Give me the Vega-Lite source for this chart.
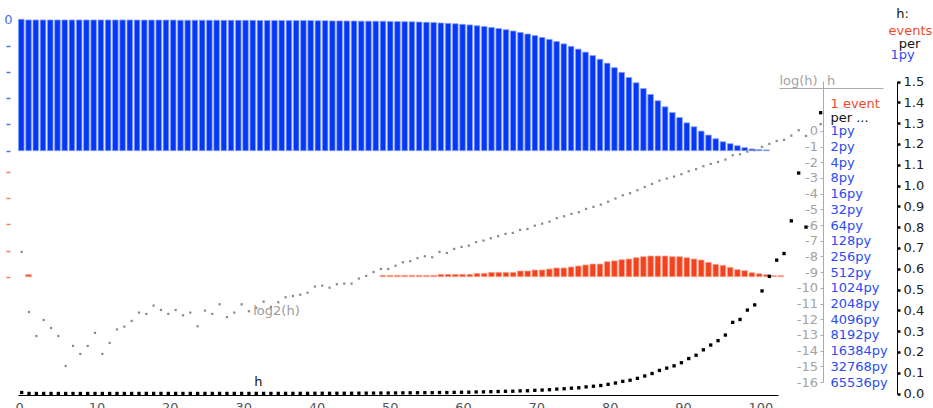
{
"$schema": "https://vega.github.io/schema/vega-lite/v6.json",
"width": 760, "height": 385,
"autosize": {"type": "none"},
"padding": {"left": 18, "top": 10, "right": 155, "bottom": 13},
"background": "white",
"config": {"view": {"stroke": null}, "font": "DejaVu Sans",
  "axis": {"labelFont": "DejaVu Sans", "titleFont": "DejaVu Sans", "labelFontSize": 13, "titleFontSize": 13, "titleFontWeight": "normal", "grid": false, "labelOverlap": false, "labelBound": false, "labelFlush": false},
  "text": {"font": "DejaVu Sans", "fontSize": 13}},
"data": {"values": [
{"age":0,"l":1.0,"d":null,"h":0.0048,"lh":-7.71},
{"age":1,"l":0.995,"d":0.0038,"h":0.00034,"lh":-11.54},
{"age":2,"l":0.995,"d":null,"h":0.00012,"lh":-13.07},
{"age":3,"l":0.995,"d":null,"h":0.00024,"lh":-12.05},
{"age":4,"l":0.995,"d":null,"h":0.00017,"lh":-12.56},
{"age":5,"l":0.995,"d":null,"h":0.00012,"lh":-13.07},
{"age":6,"l":0.995,"d":null,"h":0.00003,"lh":-14.98},
{"age":7,"l":0.995,"d":null,"h":0.000075,"lh":-13.70},
{"age":8,"l":0.995,"d":null,"h":0.000053,"lh":-14.21},
{"age":9,"l":0.995,"d":null,"h":0.000075,"lh":-13.70},
{"age":10,"l":0.995,"d":null,"h":0.00013,"lh":-12.87},
{"age":11,"l":0.995,"d":null,"h":0.000053,"lh":-14.21},
{"age":12,"l":0.995,"d":null,"h":0.000086,"lh":-13.51},
{"age":13,"l":0.995,"d":null,"h":0.00016,"lh":-12.65},
{"age":14,"l":0.995,"d":null,"h":0.00018,"lh":-12.47},
{"age":15,"l":0.995,"d":null,"h":0.00023,"lh":-12.11},
{"age":16,"l":0.994,"d":null,"h":0.00033,"lh":-11.58},
{"age":17,"l":0.994,"d":null,"h":0.00031,"lh":-11.66},
{"age":18,"l":0.994,"d":null,"h":0.00045,"lh":-11.13},
{"age":19,"l":0.994,"d":null,"h":0.00037,"lh":-11.41},
{"age":20,"l":0.994,"d":null,"h":0.00031,"lh":-11.66},
{"age":21,"l":0.994,"d":null,"h":0.00037,"lh":-11.41},
{"age":22,"l":0.993,"d":null,"h":0.00029,"lh":-11.75},
{"age":23,"l":0.993,"d":null,"h":0.00033,"lh":-11.58},
{"age":24,"l":0.993,"d":null,"h":0.00018,"lh":-12.45},
{"age":25,"l":0.993,"d":null,"h":0.00036,"lh":-11.45},
{"age":26,"l":0.993,"d":null,"h":0.00031,"lh":-11.66},
{"age":27,"l":0.993,"d":null,"h":0.00047,"lh":-11.05},
{"age":28,"l":0.992,"d":null,"h":0.00027,"lh":-11.87},
{"age":29,"l":0.992,"d":null,"h":0.00033,"lh":-11.58},
{"age":30,"l":0.992,"d":null,"h":0.00047,"lh":-11.05},
{"age":31,"l":0.992,"d":null,"h":0.00035,"lh":-11.49},
{"age":32,"l":0.992,"d":null,"h":0.0004,"lh":-11.28},
{"age":33,"l":0.991,"d":null,"h":0.00053,"lh":-10.88},
{"age":34,"l":0.991,"d":null,"h":0.00042,"lh":-11.22},
{"age":35,"l":0.991,"d":null,"h":0.00052,"lh":-10.92},
{"age":36,"l":0.991,"d":null,"h":0.00064,"lh":-10.60},
{"age":37,"l":0.990,"d":null,"h":0.00068,"lh":-10.52},
{"age":38,"l":0.990,"d":null,"h":0.00072,"lh":-10.44},
{"age":39,"l":0.990,"d":null,"h":0.00079,"lh":-10.31},
{"age":40,"l":0.990,"d":null,"h":0.00103,"lh":-9.92},
{"age":41,"l":0.989,"d":null,"h":0.00108,"lh":-9.86},
{"age":42,"l":0.989,"d":null,"h":0.00098,"lh":-9.99},
{"age":43,"l":0.988,"d":null,"h":0.00114,"lh":-9.77},
{"age":44,"l":0.988,"d":null,"h":0.00118,"lh":-9.73},
{"age":45,"l":0.987,"d":null,"h":0.00118,"lh":-9.73},
{"age":46,"l":0.987,"d":null,"h":0.00147,"lh":-9.41},
{"age":47,"l":0.986,"d":null,"h":0.00165,"lh":-9.24},
{"age":48,"l":0.986,"d":null,"h":0.00196,"lh":-8.99},
{"age":49,"l":0.985,"d":null,"h":0.00224,"lh":-8.80},
{"age":50,"l":0.985,"d":0.0025,"h":0.00224,"lh":-8.80},
{"age":51,"l":0.984,"d":0.0025,"h":0.0026,"lh":-8.59},
{"age":52,"l":0.983,"d":0.0025,"h":0.00302,"lh":-8.37},
{"age":53,"l":0.982,"d":0.0025,"h":0.00317,"lh":-8.30},
{"age":54,"l":0.981,"d":0.0025,"h":0.00362,"lh":-8.11},
{"age":55,"l":0.979,"d":0.0025,"h":0.00393,"lh":-7.99},
{"age":56,"l":0.977,"d":0.0025,"h":0.00377,"lh":-8.05},
{"age":57,"l":0.975,"d":0.0025,"h":0.00478,"lh":-7.71},
{"age":58,"l":0.972,"d":0.0044,"h":0.00455,"lh":-7.78},
{"age":59,"l":0.969,"d":0.0044,"h":0.00545,"lh":-7.52},
{"age":60,"l":0.966,"d":0.0044,"h":0.00596,"lh":-7.39},
{"age":61,"l":0.962,"d":0.0044,"h":0.0063,"lh":-7.31},
{"age":62,"l":0.957,"d":0.0044,"h":0.00734,"lh":-7.09},
{"age":63,"l":0.951,"d":0.0063,"h":0.00787,"lh":-6.99},
{"age":64,"l":0.945,"d":0.0063,"h":0.00873,"lh":-6.84},
{"age":65,"l":0.938,"d":0.0082,"h":0.00956,"lh":-6.71},
{"age":66,"l":0.930,"d":0.0082,"h":0.0106,"lh":-6.56},
{"age":67,"l":0.921,"d":0.0082,"h":0.011,"lh":-6.50},
{"age":68,"l":0.911,"d":0.0082,"h":0.0126,"lh":-6.31},
{"age":69,"l":0.900,"d":0.0109,"h":0.0131,"lh":-6.25},
{"age":70,"l":0.888,"d":0.0109,"h":0.0152,"lh":-6.04},
{"age":71,"l":0.876,"d":0.0128,"h":0.0166,"lh":-5.91},
{"age":72,"l":0.862,"d":0.0128,"h":0.0182,"lh":-5.78},
{"age":73,"l":0.847,"d":0.0147,"h":0.0212,"lh":-5.56},
{"age":74,"l":0.831,"d":0.0166,"h":0.023,"lh":-5.44},
{"age":75,"l":0.813,"d":0.0166,"h":0.0256,"lh":-5.29},
{"age":76,"l":0.794,"d":0.0185,"h":0.0276,"lh":-5.18},
{"age":77,"l":0.773,"d":0.0204,"h":0.0319,"lh":-4.97},
{"age":78,"l":0.750,"d":0.0223,"h":0.0349,"lh":-4.84},
{"age":79,"l":0.724,"d":0.0242,"h":0.0385,"lh":-4.70},
{"age":80,"l":0.696,"d":0.0242,"h":0.0439,"lh":-4.51},
{"age":81,"l":0.666,"d":0.0286,"h":0.0504,"lh":-4.31},
{"age":82,"l":0.632,"d":0.0302,"h":0.0583,"lh":-4.10},
{"age":83,"l":0.596,"d":0.0324,"h":0.0638,"lh":-3.97},
{"age":84,"l":0.557,"d":0.0338,"h":0.0728,"lh":-3.78},
{"age":85,"l":0.517,"d":0.0363,"h":0.0842,"lh":-3.57},
{"age":86,"l":0.473,"d":0.0382,"h":0.0961,"lh":-3.38},
{"age":87,"l":0.428,"d":0.0395,"h":0.111,"lh":-3.17},
{"age":88,"l":0.380,"d":0.0395,"h":0.122,"lh":-3.04},
{"age":89,"l":0.334,"d":0.0395,"h":0.133,"lh":-2.91},
{"age":90,"l":0.290,"d":0.0382,"h":0.148,"lh":-2.76},
{"age":91,"l":0.252,"d":0.0382,"h":0.168,"lh":-2.57},
{"age":92,"l":0.212,"d":0.0363,"h":0.184,"lh":-2.44},
{"age":93,"l":0.182,"d":0.0338,"h":0.210,"lh":-2.25},
{"age":94,"l":0.149,"d":0.0319,"h":0.233,"lh":-2.10},
{"age":95,"l":0.119,"d":0.0273,"h":0.254,"lh":-1.98},
{"age":96,"l":0.091,"d":0.0235,"h":0.281,"lh":-1.83},
{"age":97,"l":0.068,"d":0.0216,"h":0.342,"lh":-1.55},
{"age":98,"l":0.053,"d":0.0177,"h":0.356,"lh":-1.49},
{"age":99,"l":0.038,"d":0.0134,"h":0.401,"lh":-1.32},
{"age":100,"l":0.023,"d":0.0115,"h":0.426,"lh":-1.23},
{"age":101,"l":0.013,"d":0.0076,"h":0.493,"lh":-1.02},
{"age":102,"l":0.008,"d":0.0057,"h":0.563,"lh":-0.83},
{"age":103,"l":0.006,"d":0.0038,"h":0.641,"lh":-0.64},
{"age":104,"l":null,"d":0.0019,"h":0.673,"lh":-0.57},
{"age":105,"l":null,"d":0.0019,"h":0.83,"lh":-0.30},
{"age":106,"l":null,"d":null,"h":1.06,"lh":0.04},
{"age":107,"l":null,"d":null,"h":0.80,"lh":-0.32},
{"age":109,"l":null,"d":null,"h":1.35,"lh":0.43}
]},
"resolve": {"scale": {"x": "independent", "y": "independent"}, "axis": {"x": "independent", "y": "independent"}},
"layer": [
{"mark": {"type": "bar", "width": 5.6, "xOffset": -1.7, "fill": "#0437f6", "stroke": "#86a0fa", "strokeWidth": 0.8},
 "encoding": {
  "x": {"field": "age", "type": "quantitative", "scale": {"domain": [0, 103.683], "nice": false, "zero": false}, "axis": null},
  "y": {"field": "l", "type": "quantitative", "scale": {"domain": [0, 1], "range": [140.7, 9.3], "nice": false},
    "axis": {"orient": "left", "offset": 8, "values": [0, 0.2, 0.4, 0.6, 0.8, 1], "domain": false, "tickSize": 4, "tickWidth": 1.5, "tickColor": "#5070f0",
      "tickOpacity": {"condition": {"test": "datum.value == 1", "value": 0}, "value": 1},
      "labelExpr": "datum.value == 1 ? '0' : ''", "labelColor": "#4a6af0", "labelPadding": -6,
      "title": "1py", "titleColor": "#2a4cf2", "titleAngle": 0, "titleAlign": "center", "titleBaseline": "middle", "titleX": 892, "titleY": 44.5}}}},
{"mark": {"type": "bar", "width": 5.6, "xOffset": -1.7, "fill": "#f2431e", "stroke": "#f7a08c", "strokeWidth": 0.8},
 "encoding": {
  "x": {"field": "age", "type": "quantitative", "scale": {"domain": [0, 103.683], "nice": false, "zero": false}, "axis": null},
  "y": {"field": "d", "type": "quantitative", "scale": {"domain": [0, 0.2], "range": [266.7, 162], "nice": false},
    "axis": {"orient": "left", "offset": 8, "values": [0, 0.05, 0.1, 0.15, 0.2], "domain": false, "labels": false, "tickSize": 4, "tickWidth": 1.5, "tickColor": "#f07a68",
      "title": "events", "titleColor": "#f04a2c", "titleAngle": 0, "titleAlign": "center", "titleBaseline": "middle", "titleX": 900, "titleY": 20.5}}}},
{"mark": {"type": "point", "shape": "square", "filled": true, "size": 5, "color": "#8a8a8a", "opacity": 1, "xOffset": 3.7},
 "encoding": {
  "x": {"field": "age", "type": "quantitative", "scale": {"domain": [0, 103.683], "nice": false, "zero": false}, "axis": null},
  "y": {"field": "lh", "type": "quantitative", "scale": {"domain": [-16, 3.18], "range": [372, 71], "nice": false, "zero": false},
    "axis": {"orient": "left", "offset": -805, "values": [-16,-15,-14,-13,-12,-11,-10,-9,-8,-7,-6,-5,-4,-3,-2,-1,0],
      "labelExpr": "datum.value == 0 ? '0' : '-' + (-datum.value)", "tickSize": 3, "tickColor": "#aaaaaa", "domainColor": "#aaaaaa", "labelColor": "#a3a3a3", "labelPadding": 2.5,
      "title": "log(h)", "titleColor": "#a3a3a3", "titleAngle": 0, "titleAlign": "center", "titleBaseline": "middle", "titleX": -25, "titleY": 70}}}},
{"mark": {"type": "point", "opacity": 0},
 "encoding": {
  "x": {"field": "age", "type": "quantitative", "scale": {"domain": [0, 103.683], "range": [761, 865], "nice": false, "zero": false},
    "axis": {"orient": "top", "offset": -78, "ticks": false, "labels": false, "domainColor": "#aaaaaa", "title": null}},
  "y": {"field": "lh", "type": "quantitative", "scale": {"domain": [-16, 3.18], "range": [372, 71], "nice": false, "zero": false},
    "axis": {"orient": "right", "offset": 45, "values": [1.72, 0.87, 0,-1,-2,-3,-4,-5,-6,-7,-8,-9,-10,-11,-12,-13,-14,-15,-16],
      "ticks": false, "tickSize": 0, "domain": false, "labelPadding": 7,
      "labelExpr": "datum.value > 1.5 ? '1 event' : datum.value > 0.5 ? 'per ...' : pow(2, -datum.value) + 'py'",
      "labelColor": {"condition": [{"test": "datum.value > 1.5", "value": "#f04a2c"}, {"test": "datum.value > 0.5", "value": "#111111"}], "value": "#2a4cf2"},
      "title": "h", "titleColor": "#a3a3a3", "titleAngle": 0, "titleAlign": "center", "titleBaseline": "middle", "titleX": 7.5, "titleY": 70}}}},
{"mark": {"type": "point", "shape": "square", "filled": true, "size": 11, "color": "#000000", "opacity": 1, "xOffset": 3.7},
 "encoding": {
  "x": {"field": "age", "type": "quantitative", "scale": {"domain": [0, 103.683], "nice": false, "zero": false},
    "axis": {"orient": "bottom", "values": [0,10,20,30,40,50,60,70,80,90,100], "ticks": false, "tickSize": 0, "domainColor": "#000000", "labelAlign": "left", "labelOffset": -3, "labelPadding": 6, "labelColor": "#555555",
      "title": "per", "titleColor": "#111111", "titleAngle": 0, "titleAlign": "center", "titleBaseline": "middle", "titleX": 891, "titleY": -352}},
  "y": {"field": "h", "type": "quantitative", "scale": {"domain": [0, 1.5], "range": [383.5, 71.5], "nice": false},
    "axis": {"orient": "right", "offset": 119, "values": [0,0.1,0.2,0.3,0.4,0.5,0.6,0.7,0.8,0.9,1,1.1,1.2,1.3,1.4,1.5], "format": ".1f",
      "tickSize": 3, "tickWidth": 2.5, "tickColor": "#000000", "domainColor": "#000000", "labelColor": "#222222", "labelPadding": 3,
      "title": "h:", "titleColor": "#111111", "titleAngle": 0, "titleAlign": "center", "titleBaseline": "middle", "titleX": 5, "titleY": 3}}}},
{"transform": [{"filter": "datum.age == 32"}],
 "mark": {"type": "text", "text": "log2(h)", "align": "left", "baseline": "middle", "dx": -3, "dy": 3, "xOffset": 3.7, "color": "#9a9a9a", "fontSize": 13},
 "encoding": {
  "x": {"field": "age", "type": "quantitative", "scale": {"domain": [0, 103.683], "nice": false, "zero": false}, "axis": null},
  "y": {"field": "lh", "type": "quantitative", "scale": {"domain": [-16, 3.18], "range": [372, 71], "nice": false, "zero": false}, "axis": null}}},
{"transform": [{"filter": "datum.age == 32"}],
 "mark": {"type": "text", "text": "h", "align": "left", "baseline": "middle", "dx": -2, "dy": -11.5, "xOffset": 3.7, "color": "#111111", "fontSize": 13},
 "encoding": {
  "x": {"field": "age", "type": "quantitative", "scale": {"domain": [0, 103.683], "nice": false, "zero": false}, "axis": null},
  "y": {"field": "h", "type": "quantitative", "scale": {"domain": [0, 1.5], "range": [383.5, 71.5], "nice": false}, "axis": null}}}
]
}
